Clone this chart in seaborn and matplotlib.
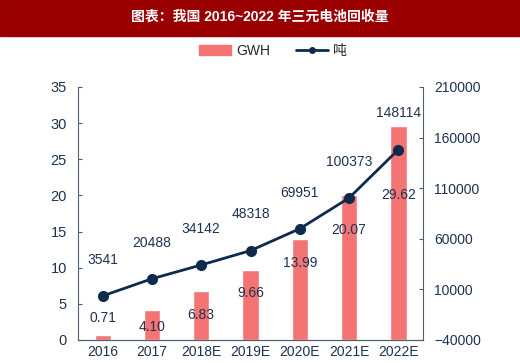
import matplotlib
matplotlib.use("Agg")
import matplotlib.pyplot as plt
import seaborn as sns
import numpy as np
from matplotlib.patches import Rectangle, Patch
from matplotlib.lines import Line2D

# data
years = ["2016", "2017", "2018E", "2019E", "2020E", "2021E", "2022E"]
gwh = [0.71, 4.10, 6.83, 9.66, 13.99, 20.07, 29.62]
tons = [3541, 20488, 34142, 48318, 69951, 100373, 148114]

# where the GWH labels sit (left-axis units), as in the source chart
gwh_label_y = [3.0, 1.8, 3.5, 6.5, 10.6, 15.2, 20.0]

sns.set_style("white")
plt.rcParams['font.family'] = ['Liberation Sans', 'Noto Sans CJK SC', 'DejaVu Sans']

bar_color = "#f47474"
line_color = "#0e2a4c"
text_color = "#1e3350"
spine_color = "#4d5e6e"

fig = plt.figure(figsize=(5.2, 3.63), dpi=100)
fig.patches.append(Rectangle((0, 1 - 36 / 363), 1, 36 / 363, transform=fig.transFigure,
                             color="#9a0000", zorder=0))
fig.text(0.5, 1 - 17 / 363, "图表：我国 2016~2022 年三元电池回收量", ha="center", va="center",
         color="white", fontsize=10, fontweight="bold")

ax = fig.add_axes([0.15, 0.0634, 0.6635, 0.697])
sns.barplot(x=years, y=gwh, ax=ax, color=bar_color, width=0.33, saturation=1)
ax.set_ylim(0, 35)
ax.set_yticks(range(0, 36, 5))
ax.set_xlim(-0.5, 6.5)

ax2 = ax.twinx()
ax2.plot(np.arange(len(years)), tons, color=line_color, lw=2, marker="o", ms=7)
ax2.set_ylim(-40000, 210000)
ax2.set_yticks(range(-40000, 210001, 50000))

for i, v in enumerate(gwh):
    ax.text(i, gwh_label_y[i], f"{v:.2f}", ha="center", va="center", fontsize=10, color=text_color)
for i, v in enumerate(tons):
    ax2.annotate(f"{v}", (i, v), xytext=(0, 26), textcoords="offset points",
                 ha="center", va="center", fontsize=10, color=text_color)

for a in (ax, ax2):
    a.spines["top"].set_visible(False)
    for s in ("left", "right", "bottom"):
        a.spines[s].set_color(spine_color)
    a.tick_params(direction="in", length=3, colors=spine_color, labelcolor=text_color, labelsize=10)
ax.spines["right"].set_visible(False)
ax2.spines["left"].set_visible(False)
ax.tick_params(axis="x", length=0)
ax.tick_params(axis="y", pad=8, labelsize=10.5)
ax2.tick_params(axis="y", pad=8)

handles = [Patch(color=bar_color, label="GWH"),
           Line2D([], [], color=line_color, lw=2, marker="o", ms=4, label="吨")]
fig.legend(handles=handles, loc="center", bbox_to_anchor=(0.525, 1 - 51 / 363), ncol=2,
           frameon=False, fontsize=10, handlelength=2.3, columnspacing=1.8, handletextpad=0.4)

fig.savefig("out.png", dpi=100)
